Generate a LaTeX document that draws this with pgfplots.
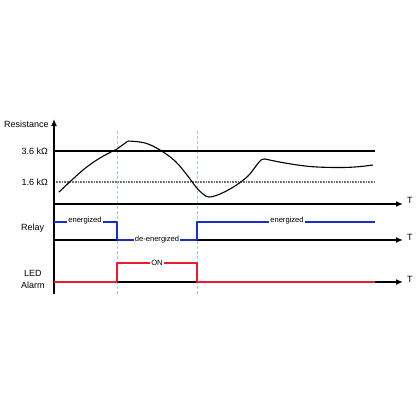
\documentclass[border=0pt]{standalone}
\usepackage{pgfplots}
\pgfplotsset{compat=1.18}
\usepackage{fontspec}
\setmainfont{Liberation Sans}
\usetikzlibrary{arrows.meta}
\definecolor{relayblue}{RGB}{25,45,205}
\definecolor{ledred}{RGB}{232,30,45}
\definecolor{dashblue}{RGB}{165,200,235}
\begin{document}
\begin{tikzpicture}
\begin{axis}[
  width=416pt, height=416pt, scale only axis,
  xmin=0, xmax=416, ymin=0, ymax=416, y dir=reverse,
  axis lines=none, clip=false,
  every axis plot/.append style={line join=round},
]
\path (axis cs:0,0) rectangle (axis cs:416,416);
% dashed guide lines
\addplot[dashblue, dash pattern=on 3pt off 2pt, line width=0.8pt] coordinates {(117,131) (117,294)};
\addplot[dashblue, dash pattern=on 3pt off 2pt, line width=0.8pt] coordinates {(197,131) (197,294)};
% threshold lines
\addplot[black, line width=1.1pt] coordinates {(54,151) (375,151)};
\addplot[black!55, dash pattern=on 0.8pt off 0.8pt, line width=1.1pt] coordinates {(54,182) (375,182)};
% axes
\addplot[black, line width=1.3pt, -{Latex[length=7pt,width=6pt]}] coordinates {(54,294) (54,119)};
\addplot[black, line width=1.5pt, -{Latex[length=7pt,width=6pt]}] coordinates {(54,204) (403,204)};
\addplot[black, line width=1.5pt, -{Latex[length=7pt,width=6pt]}] coordinates {(54,240) (403,240)};
\addplot[black, line width=1.5pt, -{Latex[length=7pt,width=6pt]}] coordinates {(54,282) (403,282)};
% resistance curve
\addplot[black, line width=1.1pt, smooth, tension=0.6] coordinates {
 (59,192) (83,170) (100,158) (117,149)};
\addplot[black, line width=1.1pt] coordinates {(117,149) (128,141)};
\addplot[black, line width=1.1pt, smooth, tension=0.6] coordinates {
 (128,141) (145,143) (160,150) (175,161) (187,175) (196,187) (203,194) (209,197) (220,194) (235,186) (248,176) (256,166) (261,160) (265,159)};
\addplot[black, line width=1.1pt, smooth, tension=0.6] coordinates {
 (265,159) (285,163) (310,166.5) (335,167.5) (355,167) (373,165)};
% relay
\addplot[relayblue, line width=1.6pt] coordinates {(54,222) (117,222) (117,240) (197,240) (197,222) (375,222)};
% LED
\addplot[ledred, line width=1.6pt] coordinates {(54,282) (117,282) (117,263) (197,263) (197,282) (375,282)};
% labels
\node[anchor=west, font=\fontsize{9}{10}\selectfont, inner sep=0pt] at (axis cs:4,124) {Resistance};
\node[anchor=east, font=\fontsize{9}{10}\selectfont, inner sep=0pt] at (axis cs:48,151) {3.6 kΩ};
\node[anchor=east, font=\fontsize{9}{10}\selectfont, inner sep=0pt] at (axis cs:48,182) {1.6 kΩ};
\node[anchor=west, font=\fontsize{9}{10}\selectfont, inner sep=0pt] at (axis cs:21,228) {Relay};
\node[anchor=west, font=\fontsize{9}{10}\selectfont, inner sep=0pt] at (axis cs:24,273) {LED};
\node[anchor=west, font=\fontsize{9}{10}\selectfont, inner sep=0pt] at (axis cs:21,285) {Alarm};
\node[anchor=west, font=\fontsize{9}{10}\selectfont, inner sep=0pt] at (axis cs:407,200) {T};
\node[anchor=west, font=\fontsize{9}{10}\selectfont, inner sep=0pt] at (axis cs:407,237) {T};
\node[anchor=west, font=\fontsize{9}{10}\selectfont, inner sep=0pt] at (axis cs:407,279) {T};
\node[fill=white, inner sep=1pt, font=\fontsize{7.6}{9}\selectfont] at (axis cs:85,221) {energized};
\node[fill=white, inner sep=1pt, font=\fontsize{7.6}{9}\selectfont] at (axis cs:157,240) {de-energized};
\node[fill=white, inner sep=1pt, font=\fontsize{7.6}{9}\selectfont] at (axis cs:287,221) {energized};
\node[fill=white, inner sep=1pt, font=\fontsize{7.6}{9}\selectfont] at (axis cs:157,263) {ON};
\end{axis}
\end{tikzpicture}
\end{document}
